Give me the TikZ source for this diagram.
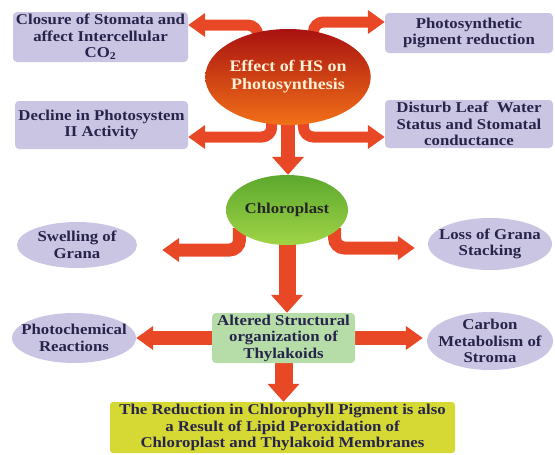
\documentclass[tikz,border=0pt]{standalone}
\usepackage{fontspec}
\setmainfont{Liberation Serif}[FakeStretch=1.12]
\usetikzlibrary{arrows.meta,backgrounds,shapes.geometric}
\definecolor{lavender}{RGB}{203,197,228}
\definecolor{arrowred}{RGB}{232,72,38}
\definecolor{inkblue}{RGB}{38,36,74}
\definecolor{hsdark}{RGB}{168,18,16}
\definecolor{hslight}{RGB}{242,112,24}
\definecolor{chldark}{RGB}{92,168,46}
\definecolor{chllight}{RGB}{160,212,70}
\definecolor{altgreen}{RGB}{182,220,168}
\definecolor{yelbox}{RGB}{214,216,52}
\tikzset{
  txt/.style={font=\bfseries\fontsize{15}{16.5}\selectfont, text=inkblue, align=center, inner sep=1pt},
  lavbox/.style={txt, rectangle, rounded corners=4pt, fill=lavender},
  lavoval/.style={txt, ellipse, fill=lavender, inner xsep=-14pt, inner ysep=-10pt},
  thinarrow/.style={arrowred, line width=11pt, -{Triangle[width=23pt,length=17pt]}},
  fatarrow/.style={arrowred, line width=16pt, -{Triangle[width=31pt,length=18pt]}}
}
\begin{document}
\begin{tikzpicture}[x=1pt,y=-1pt]
  \useasboundingbox (0,0) rectangle (555,455);
  % centre ellipses
  \node[ellipse, minimum width=132pt, minimum height=96pt, inner sep=0pt,
        top color=hsdark, bottom color=hslight, align=center,
        text={rgb,255:red,255;green,240;blue,214},
        font=\bfseries\fontsize{16}{18}\selectfont] (hs) at (288,77) {Effect of HS on\\Photosynthesis};
  \node[txt, ellipse, minimum width=122pt, minimum height=70pt, inner sep=0pt,
        top color=chldark, bottom color=chllight, text=black!85] (chl) at (287,210) {Chloroplast};
  % boxes round the top
  \node[lavbox, minimum width=175pt, minimum height=50pt] (clos) at (100.5,37)
    {Closure of Stomata and\\affect Intercellular\\CO\textsubscript{2}};
  \node[lavbox, minimum width=168pt, minimum height=40pt] (pig) at (469,33)
    {Photosynthetic\\pigment reduction};
  \node[lavbox, minimum width=173pt, minimum height=48pt] (dec) at (101.5,125)
    {Decline in Photosystem\\II Activity};
  \node[lavbox, minimum width=168pt, minimum height=48pt] (dis) at (469,124)
    {Disturb Leaf\ \ Water\\Status and Stomatal\\conductance};
  % ovals
  \node[lavoval, minimum width=120pt, minimum height=46pt] (swell) at (77,245) {Swelling of\\Grana};
  \node[lavoval, minimum width=124pt, minimum height=52pt] (loss) at (490,244) {Loss of Grana\\Stacking};
  \node[lavoval, minimum width=124pt, minimum height=50pt] (photo) at (74,338) {Photochemical\\Reactions};
  \node[lavoval, minimum width=126pt, minimum height=58pt] (carb) at (490,341) {Carbon\\Metabolism of\\Stroma};
  % lower boxes
  \node[txt, rectangle, rounded corners=4pt, fill=altgreen, minimum width=143pt, minimum height=50pt] (alt)
    at (283.5,338) {Altered Structural\\organization of\\Thylakoids};
  \node[txt, rectangle, rounded corners=3pt, fill=yelbox, minimum width=345pt, minimum height=51pt] (yel)
    at (282.5,427.5) {The Reduction in Chlorophyll Pigment is also\\a Result of Lipid Peroxidation of\\Chloroplast and Thylakoid Membranes};
  \begin{scope}[on background layer]
    \draw[thinarrow, rounded corners=10pt] ([yshift=-6pt]hs.124) |- ([yshift=12pt]clos.east);
    \draw[thinarrow, rounded corners=10pt] ([yshift=-6pt]hs.61) |- ([yshift=11pt]pig.west);
    \draw[thinarrow, rounded corners=10pt] ([yshift=6pt]hs.251) |- ([yshift=-12pt]dec.east);
    \draw[thinarrow, rounded corners=10pt] ([yshift=6pt]hs.288) |- ([yshift=-13pt]dis.west);
    \draw[fatarrow, line width=14pt] ([yshift=4pt]hs.south) -- (hs.south |- chl.north);
    \draw[thinarrow, line width=13pt, rounded corners=10pt, shorten >=25pt] ([yshift=4pt]chl.205) |- ([yshift=-5pt]swell.east);
    \draw[thinarrow, line width=13pt, rounded corners=10pt, shorten >=13pt] ([yshift=4pt]chl.335) |- ([yshift=-4pt]loss.west);
    \draw[fatarrow, line width=17pt] ([yshift=4pt]chl.south) -- (chl.south |- alt.north);
    \draw[thinarrow, line width=14pt] (alt.west) -- (alt.west -| photo.east);
    \draw[thinarrow, line width=14pt, shorten >=4pt] (alt.east) -- (alt.east -| carb.west);
    \draw[fatarrow, line width=18pt] (alt.south) -- (alt.south |- yel.north);
  \end{scope}
\end{tikzpicture}
\end{document}
